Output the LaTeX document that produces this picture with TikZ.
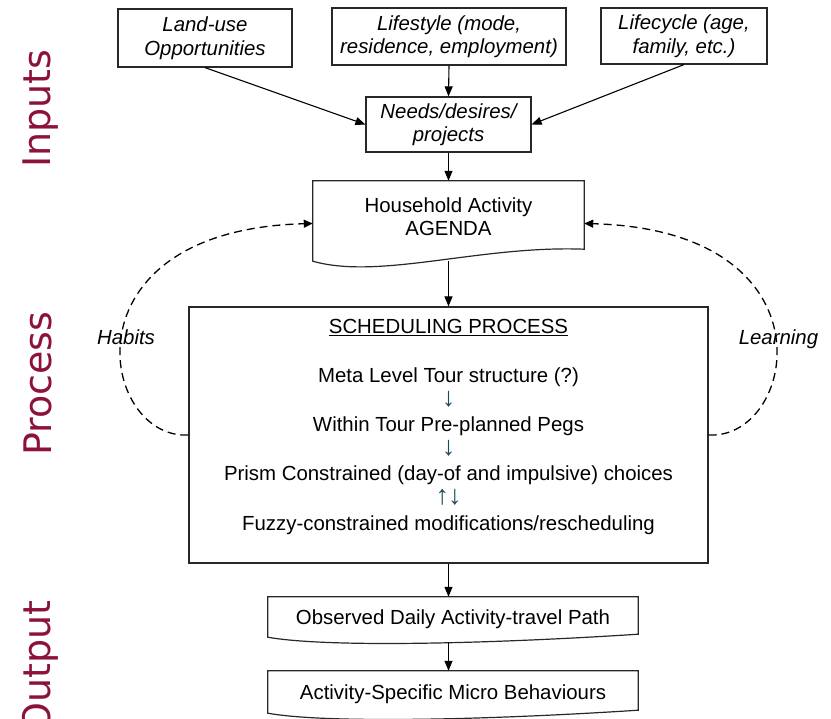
\documentclass[tikz,border=0pt]{standalone}
\usepackage{fontspec}
\setmainfont{Liberation Sans}
\newfontfamily\sidefont{DejaVu Sans}
\usetikzlibrary{arrows.meta,calc}
\definecolor{sidered}{RGB}{140,18,58}
\definecolor{arrowteal}{RGB}{30,75,90}
\definecolor{edgegray}{RGB}{40,40,40}
\begin{document}
\begin{tikzpicture}[x=1pt,y=-1pt,
  txt/.style={font=\fontsize{20.4}{23.5}\selectfont, align=center, inner sep=0pt},
  itxt/.style={txt, font=\fontsize{20.4}{23.5}\selectfont\itshape},
  inbox/.style={itxt, draw=edgegray, line width=1.2pt},
  outline/.style={draw=edgegray, line width=1.2pt},
  flow/.style={draw=black, line width=1.1pt, -{Triangle[length=10pt,width=8pt]}},
  loop/.style={draw=black, line width=1.3pt, dash pattern=on 8pt off 5pt, -{Triangle[length=9pt,width=8pt]}},
  single/.style={text height=14.7pt, text depth=0pt},
  sidelabel/.style={font=\fontsize{38}{40}\sidefont, text=sidered, rotate=90, inner sep=0pt},
  smallarrow/.style={inner sep=0pt, font=\fontsize{27}{30}\selectfont, text=arrowteal}
]
\useasboundingbox (0,0) rectangle (831,719);

% side labels
\node[sidelabel, anchor=base west] (inputs) at (50,168) {Inputs};
\node[sidelabel, anchor=base west] (process) at (52,456) {Process};
\node[sidelabel, anchor=base east] (output) at (50,600) {Output};

% input boxes
\node[inbox, minimum width=174pt, minimum height=58pt] (land) at (205,38) {Land-use\\Opportunities};
\node[inbox, minimum width=234pt, minimum height=57pt] (life) at (449,36.5) {Lifestyle (mode,\\residence, employment)};
\node[inbox, minimum width=166pt, minimum height=56pt] (cycle) at (684,36) {Lifecycle (age,\\family, etc.)};
\node[inbox, minimum width=165pt, minimum height=55pt] (needs) at (448.5,124.5) {Needs/desires/\\projects};

% agenda (document shape)
\node[txt, minimum width=271pt, minimum height=71pt] (agenda) at (448.5,216.5) {Household Activity\\AGENDA};
\draw[outline] ($(agenda.south west)+(0,9)$) -- (agenda.north west) -- (agenda.north east)
  -- ($(agenda.south east)+(0,-3)$)
  .. controls ($(agenda.south west)+(167,-7)$) and ($(agenda.south west)+(67,28)$) .. ($(agenda.south west)+(0,9)$) -- cycle;

% scheduling process box
\node[outline, minimum width=519pt, minimum height=256pt, inner sep=0pt] (sched) at (448.5,435) {};
\node[txt, anchor=base] (schedtitle) at (448.5,334) {\underline{SCHEDULING PROCESS}};
\node[txt, anchor=base] (meta) at (448.5,383) {Meta Level Tour structure (?)};
\node[smallarrow] (a1) at (448.5,399.5) {\char"2193};
\node[txt, anchor=base] (within) at (448.5,432) {Within Tour Pre-planned Pegs};
\node[smallarrow] (a2) at (448.5,448.5) {\char"2193};
\node[txt, anchor=base] (prism) at (448.5,481) {Prism Constrained (day-of and impulsive) choices};
\node[smallarrow] (a3) at (448.5,497.5) {\char"2191\kern-1pt\char"2193};
\node[txt, anchor=base] (fuzzy) at (448.5,531) {Fuzzy-constrained modifications/rescheduling};

% output boxes
\node[txt, single, minimum width=370pt, minimum height=40pt] (observed) at (453,617) {Observed Daily Activity-travel Path};
\draw[outline] ($(observed.south west)$) -- (observed.north west) -- (observed.north east)
  -- ($(observed.south east)+(0,-3)$)
  .. controls ($(observed.south west)+(232,6)$) and ($(observed.south west)+(62,11)$) .. (observed.south west) -- cycle;
\node[txt, single, minimum width=370pt, minimum height=42pt] (activity) at (453,692) {Activity-Specific Micro Behaviours};
\draw[outline] ($(activity.south west)$) -- (activity.north west) -- (activity.north east)
  -- ($(activity.south east)+(0,-3)$)
  .. controls ($(activity.south west)+(232,6)$) and ($(activity.south west)+(62,11)$) .. (activity.south west) -- cycle;

% loop labels
\node[itxt, single] (habits) at (126,337) {Habits};
\node[itxt, single] (learning) at (778.5,337) {Learning};

% flow arrows
\draw[flow] (land.south) -- (needs.west);
\draw[flow] (life.south) -- (needs.north);
\draw[flow] (cycle.south) -- (needs.east);
\draw[flow] (needs.south) -- (agenda.north);
\draw[flow] ($(agenda.south)+(0,9)$) -- (sched.north);
\draw[flow] (sched.south) -- (sched.south |- observed.north);
\draw[flow] ($(sched.south |- observed.south)+(0,5)$) -- (sched.south |- activity.north);

% feedback loops
\draw[loop] (sched.west) .. controls (100,440) and (60,230) .. ($(agenda.west)+(0,7)$);
\draw[loop] (sched.east) .. controls (797,440) and (837,230) .. ($(agenda.east)+(0,7)$);
\end{tikzpicture}
\end{document}
